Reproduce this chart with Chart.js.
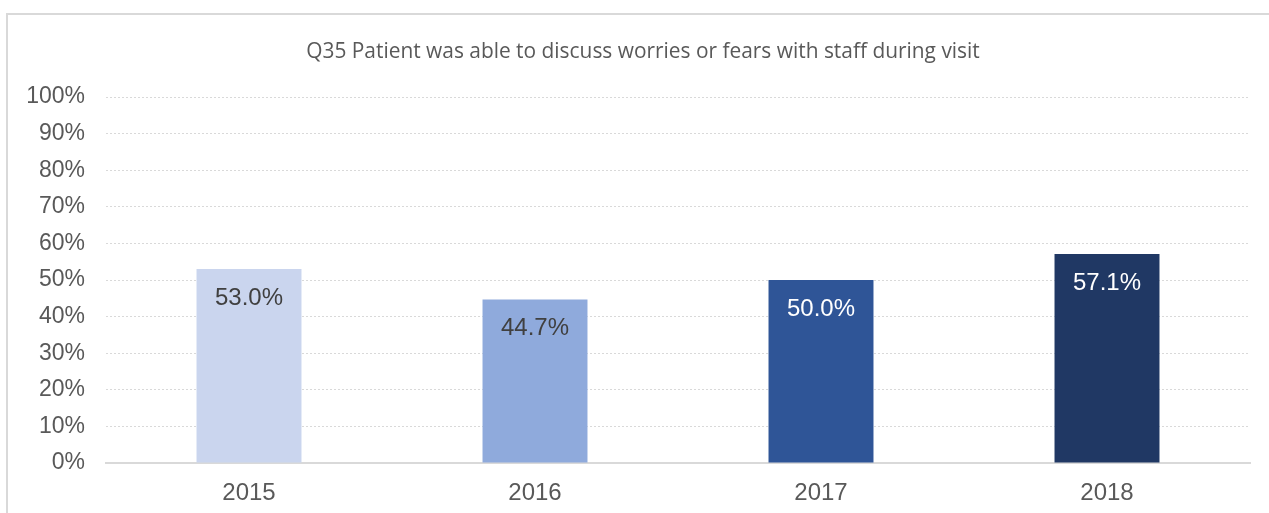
<!DOCTYPE html>
<html>
<head>
<meta charset="utf-8">
<script src="https://cdn.jsdelivr.net/npm/chart.js@4"></script>
<style>
  html, body { margin: 0; padding: 0; background: #ffffff; overflow: hidden; }
  #frame { position: absolute; left: 6px; top: 13px; width: 1400px; height: 700px; border: 2px solid #D9D9D9; box-sizing: border-box; }
  #wrap { position: absolute; left: 0; top: 0; width: 1269px; height: 513px; }
</style>
</head>
<body>
<div id="frame"></div>
<div id="wrap"><canvas id="c"></canvas></div>
<script>
const categories = ['2015', '2016', '2017', '2018'];
const values = [53.0, 44.7, 50.0, 57.1];
const valueLabels = ['53.0%', '44.7%', '50.0%', '57.1%'];
const barColors = ['#CAD5EE', '#8FAADC', '#2F5597', '#203864'];
const labelColors = ['#404040', '#404040', '#FFFFFF', '#FFFFFF'];
const titleText = 'Q35 Patient was able to discuss worries or fears with staff during visit';

// fit title font size to the reference width
const mctx = document.createElement('canvas').getContext('2d');
mctx.font = '100px "Open Sans"';
const titleSize = Math.round(100 * 674 / mctx.measureText(titleText).width * 10) / 10;

const valueLabelPlugin = {
  id: 'valueLabels',
  afterDatasetsDraw(chart) {
    const ctx = chart.ctx;
    const meta = chart.getDatasetMeta(0);
    ctx.save();
    ctx.font = '24px "Liberation Sans", Arial, sans-serif';
    ctx.textAlign = 'center';
    ctx.textBaseline = 'alphabetic';
    meta.data.forEach((bar, i) => {
      ctx.fillStyle = labelColors[i];
      ctx.fillText(valueLabels[i], bar.x, bar.y + 36);
    });
    ctx.restore();
  }
};

const titlePlugin = {
  id: 'offsetTitle',
  afterDraw(chart) {
    const ctx = chart.ctx;
    const a = chart.chartArea;
    ctx.save();
    ctx.font = titleSize + 'px "Open Sans"';
    ctx.fillStyle = '#595959';
    ctx.textAlign = 'center';
    ctx.textBaseline = 'middle';
    ctx.fillText(titleText, (a.left + a.right) / 2 - 35, a.top - 45);
    ctx.restore();
  }
};

new Chart(document.getElementById('c'), {
  type: 'bar',
  data: {
    labels: categories,
    datasets: [{
      data: values,
      backgroundColor: barColors,
      borderWidth: 0,
      categoryPercentage: 1.0,
      barPercentage: 0.367
    }]
  },
  options: {
    responsive: true,
    maintainAspectRatio: false,
    animation: false,
    layout: { padding: { left: 0, right: 19, top: 97, bottom: 0 } },
    plugins: {
      legend: { display: false },
      tooltip: { enabled: false },
      title: { display: false }
    },
    scales: {
      x: {
        grid: { display: false, drawTicks: false },
        border: { display: true, color: '#D9D9D9', width: 2 },
        ticks: { color: '#595959', font: { family: '"Liberation Sans", Arial, sans-serif', size: 24 }, padding: 16 },
        afterFit(scale) { scale.height = 50; }
      },
      y: {
        min: 0,
        max: 100,
        ticks: {
          stepSize: 10,
          color: '#595959',
          padding: 21,
          font: { family: '"Liberation Sans", Arial, sans-serif', size: 23 },
          callback: (v) => v + '%'
        },
        grid: { color: '#D9D9D9', lineWidth: 1, drawTicks: false },
        border: { display: false, dash: [2, 2] },
        afterFit(scale) { scale.width = 106; scale.paddingTop = 0; scale.paddingBottom = 0; }
      }
    }
  },
  plugins: [valueLabelPlugin, titlePlugin]
});
</script>
</body>
</html>
